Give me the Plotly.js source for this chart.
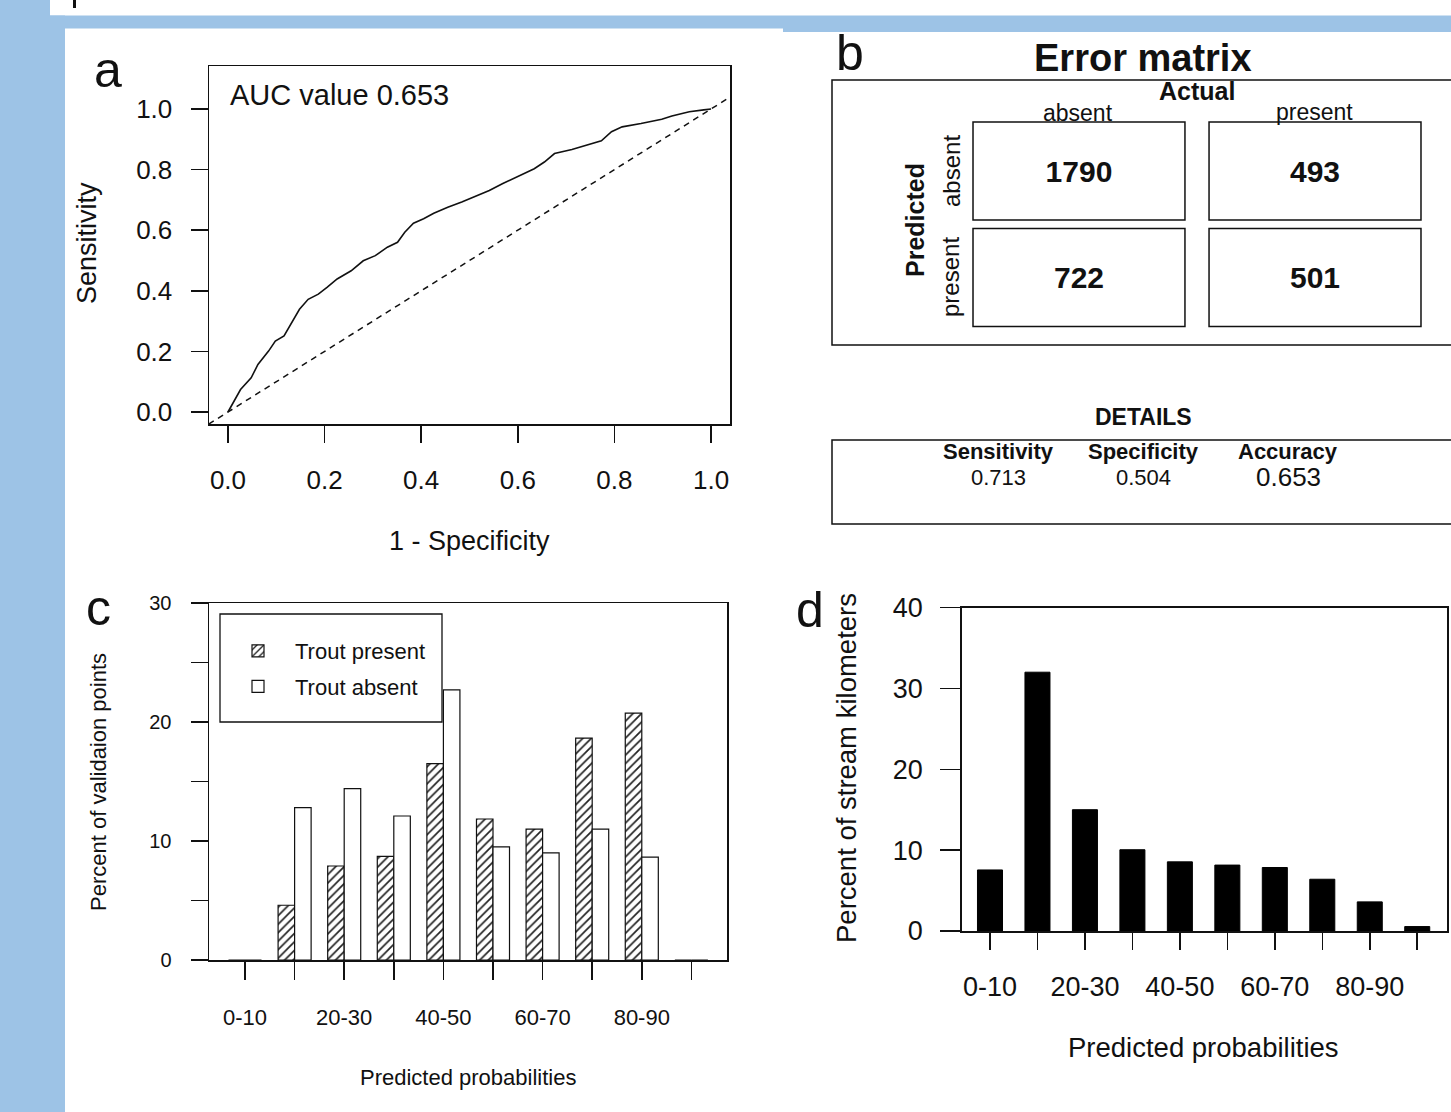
<!DOCTYPE html>
<html>
<head>
<meta charset="utf-8">
<script src="https://cdn.plot.ly/plotly-3.0.1.min.js"></script>
<style>html,body{margin:0;padding:0;background:#fff;}#chart{width:1451px;height:1112px;}</style>
</head>
<body>
<div id="chart"></div>
<script>
// ---------- DATA ----------
// Panel a: ROC curve (1 - specificity, sensitivity)
const rocFpr = [0, 0.012, 0.026, 0.048, 0.062, 0.084, 0.098, 0.116, 0.13, 0.148, 0.166, 0.187, 0.205, 0.226, 0.255, 0.28, 0.305, 0.33, 0.351, 0.366, 0.384, 0.405, 0.426, 0.455, 0.484, 0.512, 0.541, 0.569, 0.598, 0.634, 0.655, 0.676, 0.712, 0.741, 0.773, 0.794, 0.816, 0.855, 0.898, 0.919, 0.955, 0.985, 1.0];
const rocTpr = [0, 0.035, 0.074, 0.113, 0.157, 0.201, 0.234, 0.251, 0.29, 0.339, 0.372, 0.389, 0.411, 0.439, 0.466, 0.499, 0.516, 0.544, 0.56, 0.593, 0.623, 0.638, 0.656, 0.676, 0.693, 0.712, 0.731, 0.754, 0.776, 0.803, 0.825, 0.853, 0.866, 0.881, 0.895, 0.925, 0.941, 0.952, 0.966, 0.977, 0.991, 0.997, 1.0];
const diagX = [-0.04, 1.04];
const diagY = [-0.04, 1.04];
const aucText = 'AUC value 0.653';
const rocTicks = [0, 0.2, 0.4, 0.6, 0.8, 1.0];
const rocTickText = ['0.0', '0.2', '0.4', '0.6', '0.8', '1.0'];

// Panel b: error matrix
const actualLabels = ['absent', 'present'];
const predictedLabels = ['absent', 'present'];
const predAbsentRow = [1790, 493];
const predPresentRow = [722, 501];
const statNames = ['Sensitivity', 'Specificity', 'Accuracy'];
const statValues = ['0.713', '0.504', '0.653'];

// Panel c: validation points
const probBins = ['0-10', '10-20', '20-30', '30-40', '40-50', '50-60', '60-70', '70-80', '80-90', '90-100'];
const binTickText = ['0-10', '', '20-30', '', '40-50', '', '60-70', '', '80-90', ''];
const troutPresent = [0, 4.6, 7.9, 8.7, 16.5, 11.85, 11.0, 18.65, 20.75, 0];
const troutAbsent = [0, 12.8, 14.4, 12.1, 22.7, 9.5, 9.0, 11.0, 8.65, 0];
const cTicks = [0, 5, 10, 15, 20, 25, 30];
const cTickText = ['0', '', '10', '', '20', '', '30'];

// Panel d: stream kilometers
const streamPct = [7.55, 32.0, 15.0, 10.05, 8.55, 8.15, 7.85, 6.4, 3.6, 0.55];
const dTicks = [0, 10, 20, 30, 40];

// ---------- LAYOUT HELPERS ----------
const W = 1451, H = 1112;
const px = v => v / W;
const py = v => 1 - v / H;
const FONT = 'Liberation Sans, Arial, Helvetica, sans-serif';
const INK = '#111';
const BLUE = '#9dc3e6';
const idx = probBins.map((_, i) => i);

const BAR_W_C = 0.333;
const BAR_W_D = 0.527;
const CELL_W = 0.898;
const CELL_H = 0.92;

const traces = [];
// Panel a
traces.push({type: 'scatter', mode: 'lines', x: diagX, y: diagY, xaxis: 'x', yaxis: 'y',
  line: {color: INK, width: 1.5, dash: '6px,5px'}, showlegend: false, hoverinfo: 'skip', cliponaxis: true});
traces.push({type: 'scatter', mode: 'lines', x: rocFpr, y: rocTpr, xaxis: 'x', yaxis: 'y',
  line: {color: INK, width: 1.6}, showlegend: false, hoverinfo: 'skip'});

// Panel b cells (bars drawn as boxes)
const cellText = {family: FONT, size: 30, color: INK, weight: 'bold'};
traces.push({type: 'bar', x: [0, 1], y: [CELL_H, CELL_H], base: [1 - CELL_H / 2, 1 - CELL_H / 2],
  width: CELL_W, xaxis: 'x4', yaxis: 'y4', text: predAbsentRow.map(String), textposition: 'inside',
  insidetextanchor: 'middle', textangle: 0, constraintext: 'none', insidetextfont: cellText,
  marker: {color: 'white', line: {color: INK, width: 1.5}}, showlegend: false, hoverinfo: 'skip'});
traces.push({type: 'bar', x: [0, 1], y: [CELL_H, CELL_H], base: [-CELL_H / 2, -CELL_H / 2],
  width: CELL_W, xaxis: 'x4', yaxis: 'y4', text: predPresentRow.map(String), textposition: 'inside',
  insidetextanchor: 'middle', textangle: 0, constraintext: 'none', insidetextfont: cellText,
  marker: {color: 'white', line: {color: INK, width: 1.5}}, showlegend: false, hoverinfo: 'skip'});

// Panel c
traces.push({type: 'bar', name: 'Trout present', legendgroup: 'p', x: idx, y: troutPresent, xaxis: 'x2', yaxis: 'y2',
  width: BAR_W_C, offset: -BAR_W_C,
  marker: {color: 'white', line: {color: INK, width: 1.2},
    pattern: {shape: '/', bgcolor: 'white', fgcolor: '#222', size: 6, solidity: 0.28}},
  hoverinfo: 'skip'});
traces.push({type: 'bar', name: 'Trout absent', legendgroup: 'a', x: idx, y: troutAbsent, xaxis: 'x2', yaxis: 'y2',
  width: BAR_W_C, offset: 0,
  marker: {color: 'white', line: {color: INK, width: 1.2}}, hoverinfo: 'skip'});

// Panel d
traces.push({type: 'bar', x: idx, y: streamPct, xaxis: 'x3', yaxis: 'y3', width: BAR_W_D, offset: -BAR_W_D / 2,
  marker: {color: '#000', line: {color: '#000', width: 1}}, showlegend: false, hoverinfo: 'skip'});

const axBase = {showgrid: false, zeroline: false, showline: true, mirror: true, linecolor: INK, linewidth: 1.5,
  ticks: 'outside', tickcolor: INK, tickwidth: 1.5, fixedrange: true};

const ann = [];
function A(text, x, y, size, opts) {
  ann.push(Object.assign({text: text, x: px(x), y: py(y), xref: 'paper', yref: 'paper', showarrow: false,
    xanchor: 'center', yanchor: 'middle', borderpad: 0, font: {family: FONT, size: size, color: INK}}, opts || {}));
}
// panel letters
A('a', 108, 70, 50);
A('b', 850, 53, 50);
A('c', 98, 608, 50);
A('d', 810, 610, 50);
// panel a
A(aucText, 229, 95, 29, {xanchor: 'left'});
A('Sensitivity', 87, 243, 27, {textangle: -90});
A('1 - Specificity', 470, 541, 27);
// panel b
A('<b>Error matrix</b>', 1143, 58, 38);
A('<b>Actual</b>', 1197, 91, 25);
A(actualLabels[0], 1078, 113, 23);
A(actualLabels[1], 1314, 112, 23);
A('<b>Predicted</b>', 915, 220, 25, {textangle: -90});
A(predictedLabels[0], 951, 171, 24, {textangle: -90});
A(predictedLabels[1], 950, 277, 24, {textangle: -90});
A('<b>DETAILS</b>', 1143, 417, 23);
const statX = [998, 1143, 1288];
statNames.forEach((n, i) => {
  A('<b>' + n + '</b>', statX[i], 451, 22);
  A(statValues[i], statX[i], 477, i === 2 ? 26 : 22);
});
// panel c
A('Percent of validaion points', 98, 782, 22, {textangle: -90});
A('Predicted probabilities', 468, 1077, 22);
// panel d
A('Percent of stream kilometers', 846, 768, 27.5, {textangle: -90});
A('Predicted probabilities', 1203, 1047, 27.5);

const shapes = [
  {type: 'rect', xref: 'paper', yref: 'paper', x0: px(0), x1: px(50), y0: py(1112), y1: py(0), fillcolor: BLUE, line: {width: 0}, layer: 'below'},
  {type: 'rect', xref: 'paper', yref: 'paper', x0: px(0), x1: px(65), y0: py(1112), y1: py(15.5), fillcolor: BLUE, line: {width: 0}, layer: 'below'},
  {type: 'rect', xref: 'paper', yref: 'paper', x0: px(50), x1: px(1451), y0: py(28.5), y1: py(15.5), fillcolor: BLUE, line: {width: 0}, layer: 'below'},
  {type: 'rect', xref: 'paper', yref: 'paper', x0: px(783), x1: px(1451), y0: py(32), y1: py(28), fillcolor: BLUE, line: {width: 0}, layer: 'below'},
  {type: 'line', xref: 'paper', yref: 'paper', x0: px(74.5), x1: px(74.5), y0: py(0), y1: py(8), line: {color: INK, width: 3}},
  // panel b frames
  {type: 'rect', xref: 'paper', yref: 'paper', x0: px(832), x1: px(1456), y0: py(345), y1: py(80), line: {color: INK, width: 1.5}},
  {type: 'rect', xref: 'paper', yref: 'paper', x0: px(832), x1: px(1456), y0: py(524), y1: py(440), line: {color: INK, width: 1.5}},
  // panel c legend frame
  {type: 'rect', xref: 'paper', yref: 'paper', x0: px(220), x1: px(442), y0: py(722), y1: py(614), line: {color: INK, width: 1.3}, fillcolor: 'white', layer: 'above'}
];

const layout = {
  width: W, height: H, autosize: false,
  margin: {l: 0, r: 0, t: 0, b: 0, pad: 0},
  paper_bgcolor: 'white', plot_bgcolor: 'rgba(0,0,0,0)',
  font: {family: FONT, color: INK},
  hovermode: false, barmode: 'overlay', showlegend: true,
  // Panel a
  xaxis: Object.assign({}, axBase, {domain: [px(209), px(730)], range: [-0.0393, 1.0393], anchor: 'y',
    tickvals: rocTicks, ticktext: rocTickText, ticklen: 17, tickfont: {size: 26, color: INK}, ticklabelstandoff: 15}),
  yaxis: Object.assign({}, axBase, {domain: [py(424), py(66)], range: [-0.0396, 1.1419], anchor: 'x',
    tickvals: rocTicks, ticktext: rocTickText, ticklen: 17, tickfont: {size: 26, color: INK}, ticklabelstandoff: 13}),
  // Panel c
  xaxis2: Object.assign({}, axBase, {domain: [px(209), px(727)], range: [-0.726, 9.718], anchor: 'y2',
    tickvals: idx, ticktext: binTickText, ticklen: 18, tickfont: {size: 22, color: INK}, ticklabelstandoff: 19}),
  yaxis2: Object.assign({}, axBase, {domain: [py(960), py(603)], range: [0, 30], anchor: 'x2',
    tickvals: cTicks, ticktext: cTickText, ticklen: 17, tickfont: {size: 20, color: INK}, ticklabelstandoff: 15}),
  // Panel d
  xaxis3: Object.assign({}, axBase, {domain: [px(961.7), px(1447)], range: [-0.596, 9.627], anchor: 'y3',
    tickvals: idx, ticktext: binTickText, ticklen: 17, tickfont: {size: 27, color: INK}, ticklabelstandoff: 14}),
  yaxis3: Object.assign({}, axBase, {domain: [py(931), py(607.5)], range: [0, 40], anchor: 'x3',
    tickvals: dTicks, ticktext: dTicks.map(String), ticklen: 20, tickfont: {size: 27, color: INK}, ticklabelstandoff: 12}),
  // Panel b (cells)
  xaxis4: {domain: [px(969), px(1425)], range: [-0.466, 1.466], anchor: 'y4', visible: false, fixedrange: true},
  yaxis4: {domain: [py(330), py(118)], range: [-0.493, 1.498], anchor: 'x4', visible: false, fixedrange: true},
  legend: {x: px(221), y: py(630), xanchor: 'left', yanchor: 'top', bgcolor: 'rgba(0,0,0,0)', borderwidth: 0,
    font: {family: FONT, size: 22, color: INK}, tracegroupgap: 4, itemwidth: 64, traceorder: 'grouped'},
  shapes: shapes,
  annotations: ann
};

Plotly.newPlot('chart', traces, layout, {staticPlot: true, displayModeBar: false});
</script>
</body>
</html>
